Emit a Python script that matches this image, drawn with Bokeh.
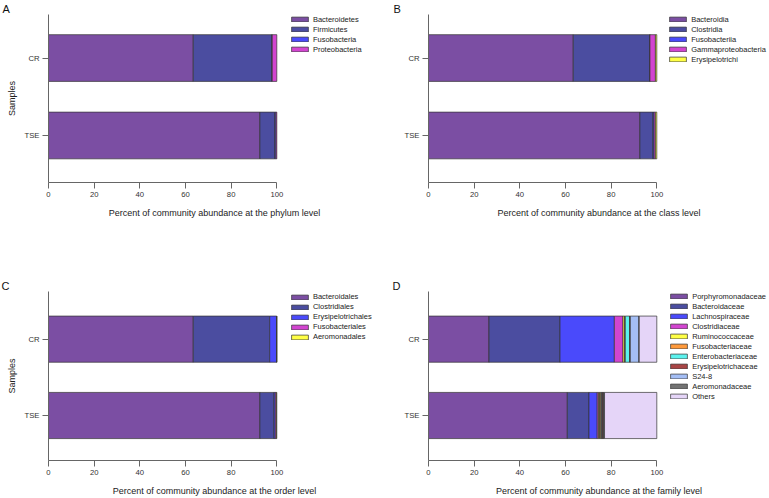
from bokeh.plotting import figure
from bokeh.layouts import column, row
from bokeh.models import (ColumnDataSource, Range1d, FixedTicker, Legend,
                          LegendItem)
from bokeh.embed import file_html
from bokeh.resources import INLINE

# ---------------- data ----------------
samples = ["CR", "TSE"]
x_ticks = [0, 20, 40, 60, 80, 100]

phylum_names = ["Bacteroidetes", "Firmicutes", "Fusobacteria", "Proteobacteria"]
phylum_cr = [63.4, 34.4, 0.2, 2.0]
phylum_tse = [92.6, 6.4, 0.6, 0.4]

class_names = ["Bacteroidia", "Clostridia", "Fusobacteriia",
               "Gammaproteobacteria", "Erysipelotrichi"]
class_cr = [63.4, 33.5, 0.1, 2.4, 0.6]
class_tse = [92.6, 5.7, 0.5, 0.6, 0.6]

order_names = ["Bacteroidales", "Clostridiales", "Erysipelotrichales",
               "Fusobacteriales", "Aeromonadales"]
order_cr = [63.4, 33.5, 3.0, 0.05, 0.05]
order_tse = [92.6, 6.1, 0.6, 0.5, 0.2]

family_names = ["Porphyromonadaceae", "Bacteroidaceae", "Lachnospiraceae",
                "Clostridiaceae", "Ruminococcaceae", "Fusobacteriaceae",
                "Enterobacteriaceae", "Erysipelotrichaceae", "S24-8",
                "Aeromonadaceae", "Others"]
family_cr = [26.5, 31.1, 23.8, 3.8, 0.7, 0.3, 1.9, 0.3, 3.8, 0.1, 7.7]
family_tse = [60.8, 9.5, 3.6, 0.6, 0.4, 0.6, 0.4, 0.5, 0.2, 0.5, 22.9]

colors = ["#7B4EA3", "#4B4DA0", "#4A4AFB", "#D245D0", "#FFFF45", "#FF9A3C",
          "#5CF2EE", "#A84545", "#A4BEF5", "#737373", "#E5D5F8"]

FONT = "Liberation Sans"
PX = 2.283          # pixels per percent
LEFT = 48
TOP = 13


def panel(letter, letter_off, names, cr, tse, level, width, height,
          frame_top, frame_bottom, cr_c, tse_c, show_ylabel,
          legend_x, legend_row0):
    frame_w = width - LEFT
    frame_h = frame_bottom - frame_top
    bottom = height - TOP - frame_h
    step = tse_c - cr_c
    y_end = 2 + (cr_c - frame_top) / step
    y_start = 1 - (frame_bottom - tse_c) / step
    p = figure(width=width, height=height, title=letter,
               x_range=Range1d(0, frame_w / PX),
               y_range=Range1d(y_start, y_end),
               output_backend="svg", toolbar_location=None,
               min_border_left=LEFT, min_border_right=0,
               min_border_top=TOP, min_border_bottom=bottom)
    p.outline_line_color = None
    p.grid.visible = False
    p.title.align = "left"
    p.title.offset = letter_off
    p.title.standoff = 0
    p.title.text_font = FONT
    p.title.text_font_size = "11px"
    p.title.text_font_style = "normal"
    p.title.text_color = "#111111"

    ys = [len(samples) - i for i in range(len(samples))]
    vals = [cr, tse]
    items = []
    for k, name in enumerate(names):
        lefts = [sum(v[:k]) for v in vals]
        rights = [sum(v[:k + 1]) for v in vals]
        src = ColumnDataSource(dict(y=ys, left=lefts, right=rights))
        r = p.hbar(y="y", left="left", right="right", height=47.0 / step,
                   source=src, fill_color=colors[k], line_color="#333333",
                   line_width=1, line_alpha=0.7)
        items.append(LegendItem(label=name, renderers=[r]))

    n = len(names)
    leg_top = legend_row0 - 5 - frame_top
    leg = Legend(items=items, location=(legend_x, frame_h - leg_top - n * 10),
                 padding=0, margin=0, spacing=0, label_height=10,
                 glyph_height=6, glyph_width=21, label_standoff=3,
                 label_text_font_size="7.5px", label_text_font=FONT,
                 label_text_color="#222222",
                 border_line_color=None, background_fill_alpha=0)
    p.add_layout(leg, "center")

    xa = p.xaxis[0]
    xa.ticker = FixedTicker(ticks=x_ticks)
    xa.bounds = (0, 100)
    xa.axis_label = "Percent of community abundance at the %s level" % level
    xa.axis_label_standoff = 8
    ya = p.yaxis[0]
    ya.ticker = FixedTicker(ticks=ys)
    ya.major_label_overrides = {y: s for y, s in zip(ys, samples)}
    if show_ylabel:
        ya.axis_label = "Samples"
        ya.axis_label_standoff = 5
    for ax in (xa, ya):
        ax.axis_line_color = "#666666"
        ax.major_tick_line_color = "#666666"
        ax.major_tick_out = 6
        ax.major_tick_in = 0
        ax.minor_tick_out = 0
        ax.minor_tick_in = 0
        ax.major_label_text_font = FONT
        ax.major_label_text_font_size = "7.7px"
        ax.major_label_text_color = "#333333"
        ax.axis_label_text_font = FONT
        ax.axis_label_text_font_size = "9px"
        ax.axis_label_text_font_style = "normal"
        ax.axis_label_text_color = "#222222"
    xa.major_label_standoff = 3
    ya.major_label_standoff = 3
    return p


pa = panel("A", -46, phylum_names, phylum_cr, phylum_tse, "phylum", 380, 277,
           13, 182, 56.8, 134.7, True, 240.9, 19.0)
pb = panel("B", -35, class_names, class_cr, class_tse, "class", 389, 277,
           13, 182, 56.8, 134.7, False, 239.2, 19.0)
pc = panel("C", -47, order_names, order_cr, order_tse, "order", 380, 221,
           290, 462, 338.5, 416.2, True, 240.9, 298.5)
pd = panel("D", -36, family_names, family_cr, family_tse, "family", 389, 221,
           290, 462, 338.5, 416.2, False, 240.2, 298.0)

layout = column(row(pa, pb), row(pc, pd))
open("out.html", "w").write(file_html(layout, INLINE))
